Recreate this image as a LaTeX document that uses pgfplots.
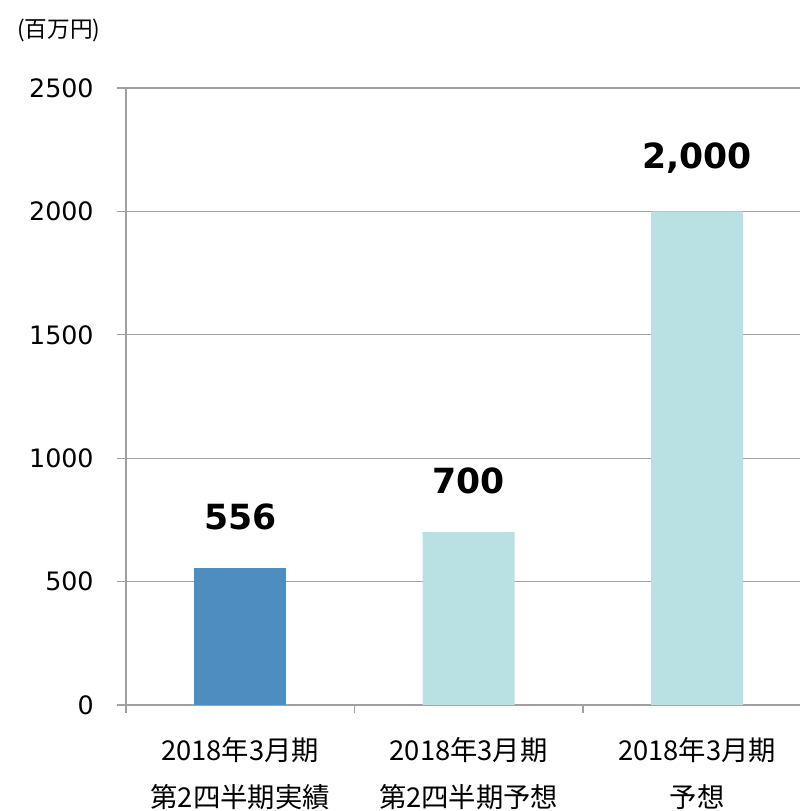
\documentclass[border=0pt]{standalone}
\usepackage{fontspec}
\usepackage{pgfplots}
\pgfplotsset{compat=1.18}
\setmainfont{DejaVu Sans}
\newfontfamily\cjk{Noto Sans CJK JP}
\definecolor{barblue}{HTML}{4E8DBF}
\definecolor{barlight}{HTML}{B9E0E3}
\definecolor{gridgray}{HTML}{A0A0A0}
\begin{document}
\begin{tikzpicture}[x=1pt,y=1pt]
\useasboundingbox (-94.5pt,-79.5pt) rectangle (505.5pt,528.75pt);
\begin{axis}[
  at={(0pt,0pt)}, anchor=south west,
  scale only axis, width=505.5pt, height=462.75pt,
  xmin=-0.5, xmax=2.45, ymin=0, ymax=2500,
  ytick={0,500,1000,1500,2000,2500},
  xtick={0,1,2},
  xticklabels={{\cjk 2018年3月期}\\{\cjk 第2四半期実績},{\cjk 2018年3月期}\\{\cjk 第2四半期予想},{\cjk 2018年3月期}\\{\cjk 予想}},
  xticklabel style={align=center, font=\fontsize{20.5}{35}\selectfont, yshift=-14pt},
  minor xtick={-0.5,0.5,1.5},
  major x tick style={draw=none},
  minor tick length=6pt,
  major tick length=6.75pt,
  tick align=outside,
  axis x line*=bottom, axis y line*=left,
  axis line style={gridgray, line width=0.9pt},
  every tick/.style={gridgray, line width=0.9pt},
  ymajorgrids, grid style={gridgray, line width=0.9pt},
  /pgf/number format/assume math mode=true,
  scaled y ticks=false,
  yticklabel style={font=\fontsize{19}{22}\selectfont, xshift=-14pt},
  yticklabel={\pgfmathprintnumber[fixed,precision=0,1000 sep={}]{\tick}},
  ybar, bar width=69pt, bar shift=0pt,
  nodes near coords,
  nodes near coords style={font=\bfseries\fontsize{26}{30}\selectfont, black, anchor=south, yshift=25pt,
    /pgf/number format/.cd, fixed, precision=0, 1000 sep={,}},
  clip=false,
]
\addplot[fill=barblue, draw=none] coordinates {(0,556)};
\addplot[fill=barlight, draw=none] coordinates {(1,700) (2,2000)};
\end{axis}
\node[font=\cjk\fontsize{17}{20}\selectfont, anchor=west, inner sep=0pt] at (-81.75pt,506pt) {(百万円)};
\end{tikzpicture}
\end{document}
